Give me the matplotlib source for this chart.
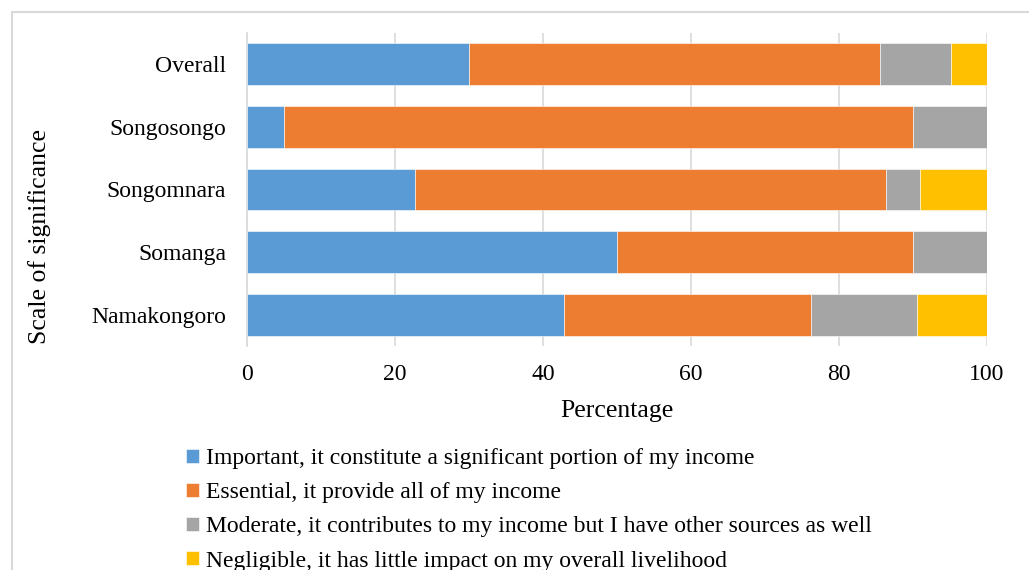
import numpy as np
import matplotlib.pyplot as plt
from matplotlib.patches import Rectangle

plt.rcParams["font.family"] = ["Liberation Serif", "DejaVu Serif"]

sites = ["Namakongoro", "Somanga", "Songomnara", "Songosongo", "Overall"]
important = [42.9, 50.0, 22.7, 5.0, 30.0]
essential = [33.3, 40.0, 63.7, 85.0, 55.5]
moderate = [14.3, 10.0, 4.5, 10.0, 9.7]
negligible = [9.5, 0.0, 9.1, 0.0, 4.8]

labels = [
    "Important, it constitute a significant portion of my income",
    "Essential, it provide all of my income",
    "Moderate, it contributes to my income but I have other sources as well",
    "Negligible, it has little impact on my overall livelihood",
]
colors = ["#5B9BD5", "#ED7D31", "#A5A5A5", "#FFC000"]

fig = plt.figure(figsize=(10.29, 5.70), dpi=100)
ax = fig.add_axes([247 / 1029, 1 - 346 / 570, 740 / 1029, 313 / 570])

# figure border like the source
fig.patches.append(Rectangle((12 / 1029, -0.05), 1.2, 1 - 12 / 570 + 0.05,
                             transform=fig.transFigure, fill=False,
                             edgecolor="#D9D9D9", linewidth=1.5))

y = np.arange(len(sites))
left = np.zeros(len(sites))
for vals, lab, col in zip([important, essential, moderate, negligible], labels, colors):
    vals = np.array(vals)
    ax.barh(y, vals, left=left, height=0.67, color=col, label=lab,
            edgecolor="white", linewidth=0.4, zorder=3)
    left += vals

ax.set_xlim(0, 100)
ax.set_ylim(-0.5, len(sites) - 0.5)
ax.set_xticks(np.arange(0, 101, 20))
ax.set_yticks(y)
ax.set_yticklabels(sites)
ax.tick_params(axis="both", length=0, labelsize=17, colors="#000000")
ax.tick_params(axis="y", pad=15)
ax.tick_params(axis="x", pad=13)
ax.grid(axis="x", color="#D9D9D9", linewidth=1.2, zorder=0)
for s in ["top", "right", "bottom"]:
    ax.spines[s].set_visible(False)
ax.spines["left"].set_color("#D9D9D9")
ax.spines["left"].set_linewidth(1.2)

ax.set_xlabel("Percentage", fontsize=18.5, labelpad=11)
fig.text(40 / 1029, 1 - 237 / 570, "Scale of significance", rotation=90,
         fontsize=18.5, ha="center", va="center")

handles, labs = ax.get_legend_handles_labels()
fig.legend(handles, labs, loc="upper left", bbox_to_anchor=(186 / 1029, 1 - 448 / 570),
           frameon=False, fontsize=17, handlelength=0.55, handleheight=0.55,
           handletextpad=0.3, labelspacing=0.56, borderaxespad=0, borderpad=0)

fig.savefig("out.png", dpi=100)
